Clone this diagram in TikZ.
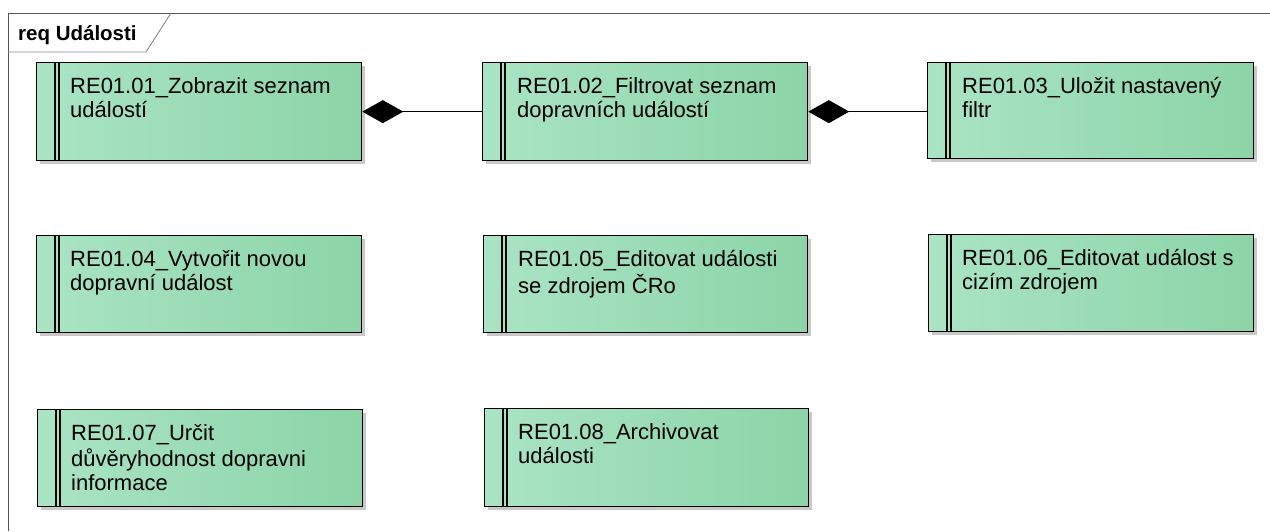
\documentclass[tikz,border=0pt]{standalone}
\usepackage{fontspec}
\setmainfont{Liberation Sans}
\usetikzlibrary{arrows.meta,shadows}
\definecolor{reqfill}{RGB}{140,212,168}
\definecolor{reqlight}{RGB}{170,228,196}
\definecolor{framegray}{RGB}{85,85,85}
\definecolor{shadowgray}{RGB}{200,200,200}
\tikzset{
  reqbox/.style={draw=black, line width=1.3pt, left color=reqlight, right color=reqfill,
    anchor=north west, inner sep=0pt,
    drop shadow={shadow xshift=3pt, shadow yshift=-3pt, fill=shadowgray, opacity=1}},
  reqtext/.style={anchor=north west, inner sep=0pt, align=left,
    font=\fontsize{22}{24.5}\selectfont},
  stripe/.style={draw=black, line width=1.1pt},
  conn/.style={draw=black, line width=1.2pt, {Diamond[length=41pt,width=23pt]}-},
  framel/.style={draw=framegray, line width=1pt},
  tabl/.style={draw=framegray!70, line width=0.9pt}
}
\newcommand{\stripes}[1]{%
  \draw[stripe] ([xshift=19pt]#1.north west) -- ([xshift=19pt]#1.south west);
  \draw[stripe] ([xshift=23pt]#1.north west) -- ([xshift=23pt]#1.south west);}
\begin{document}
\begin{tikzpicture}[x=1pt,y=-1pt]
\useasboundingbox (0,0) rectangle (1270,531);
\fill[white] (0,0) rectangle (1270,531);
% frame
\draw[framel] (8,531) -- (8,13) -- (1270,13);
\draw[tabl] (8,52) -- (146,52) -- (171,13);
\node[anchor=base west, inner sep=0pt, font=\bfseries\fontsize{20.5}{24}\selectfont] (title) at (18,40) {req Události};
% boxes
\node[reqbox, minimum width=325pt, minimum height=98pt] (b1) at (36,62) {};
\node[reqbox, minimum width=325pt, minimum height=98pt] (b2) at (482,62) {};
\node[reqbox, minimum width=326pt, minimum height=96pt] (b3) at (927,62) {};
\node[reqbox, minimum width=325pt, minimum height=97pt] (b4) at (36,235) {};
\node[reqbox, minimum width=324pt, minimum height=97pt] (b5) at (483,235) {};
\node[reqbox, minimum width=325pt, minimum height=97pt] (b6) at (928,234) {};
\node[reqbox, minimum width=325pt, minimum height=97pt] (b7) at (37,409) {};
\node[reqbox, minimum width=324pt, minimum height=98pt] (b8) at (484,408) {};
\stripes{b1}\stripes{b2}\stripes{b3}\stripes{b4}
\stripes{b5}\stripes{b6}\stripes{b7}\stripes{b8}
% texts
\node[reqtext] (t1) at (70,75.9) {\strut RE01.01\_Zobrazit seznam\\událostí};
\node[reqtext] (t2) at (517,75.9) {\strut RE01.02\_Filtrovat seznam\\dopravních událostí};
\node[reqtext] (t3) at (962,75.9) {\strut RE01.03\_Uložit nastavený\\filtr};
\node[reqtext] (t4) at (70,248.9) {\strut RE01.04\_Vytvořit novou\\dopravní událost};
\node[reqtext] (t5) at (518,248.9) {\strut RE01.05\_Editovat události\\se zdrojem ČRo};
\node[reqtext] (t6) at (962,247.9) {\strut RE01.06\_Editovat událost s\\cizím zdrojem};
\node[reqtext] (t7) at (71,422.9) {\strut RE01.07\_Určit\\důvěryhodnost dopravni\\informace};
\node[reqtext] (t8) at (518,421.9) {\strut RE01.08\_Archivovat\\události};
% connectors
\draw[conn] (b1.east) -- (b2.west);
\draw[conn] (b2.east) -- (b2.east -| b3.west);
\end{tikzpicture}
\end{document}
